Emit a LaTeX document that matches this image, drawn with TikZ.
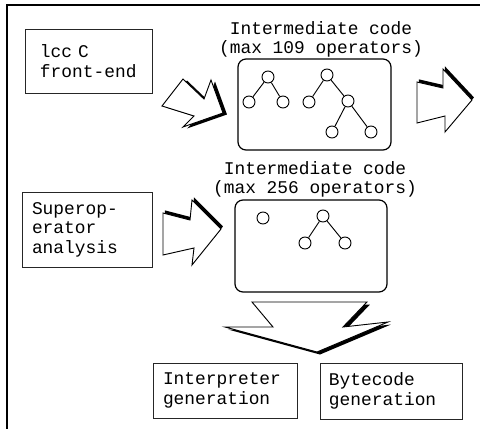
\documentclass[tikz,border=0pt]{standalone}
\usepackage{fontspec}
\setmonofont{Liberation Mono}
\usepackage{tikz}
\usetikzlibrary{positioning}

\begin{document}
\begin{tikzpicture}[
        x=0.75pt, y=-0.75pt,
        boite/.style={draw=black!85, line width=0.75pt, align=left, inner ysep=0pt,
            font=\ttfamily\fontsize{13.4}{14.6}\selectfont},
        titre/.style={anchor=base, inner sep=0pt, align=center,
            font=\ttfamily\fontsize{13.4}{13.6}\selectfont},
        code/.style={draw, rounded corners=6pt, line width=0.9pt},
        noeud/.style={circle, draw, minimum size=9pt, inner sep=0pt, line width=0.7pt},
        branche/.style={line width=0.7pt},
        fleche/.style={draw, fill=white, line width=0.7pt, line join=miter},
        ombre/.style={fill=black}
    ]
    \useasboundingbox (0,0) rectangle (480,429);

    % -- Cadre --
    \draw[line width=1.5pt] (480,5) -- (7,5) -- (7,429);

    % -- Boites de texte --
    \node[boite, minimum width=95.25pt, minimum height=48pt, text width=74.25pt, inner xsep=10.5pt]
        (lcc) at (89.5,61) {lcc C\\front-end};
    \node[boite, minimum width=97.5pt, minimum height=56.25pt, text width=84pt, inner xsep=6.75pt]
        (super) at (88,229.5) {Superop-\\erator\\analysis};
    \node[boite, minimum width=108pt, minimum height=41.25pt, text width=94.5pt, inner xsep=6.75pt]
        (interp) at (226,390.5) {Interpreter\\generation};
    \node[boite, minimum width=106.5pt, minimum height=42pt, text width=94.5pt, inner xsep=6pt]
        (bytecode) at (392,391) {Bytecode\\generation};

    % -- Code intermediaire --
    \node[code, minimum width=114.75pt, minimum height=68.25pt] (code1) at (314.5,104.5) {};
    \node[code, minimum width=114pt, minimum height=69pt] (code2) at (311,246) {};
    \node[titre] (titre1) at (321,53) {Intermediate code\\(max 109 operators)};
    \node[titre] (titre2) at (315,193) {Intermediate code\\(max 256 operators)};

    % -- Arbres (max 109) --
    \node[noeud] (a) at (268,77) {};
    \node[noeud] (b) at (249,102) {};
    \node[noeud] (c) at (283,102) {};
    \node[noeud] (d) at (327,75) {};
    \node[noeud] (e) at (309,102) {};
    \node[noeud] (f) at (348,101) {};
    \node[noeud] (g) at (332,132) {};
    \node[noeud] (h) at (371,132) {};
    \draw[branche] (a) -- (b);
    \draw[branche] (a) -- (c);
    \draw[branche] (d) -- (e);
    \draw[branche] (d) -- (f);
    \draw[branche] (f) -- (g);
    \draw[branche] (f) -- (h);

    % -- Arbres (max 256) --
    \node[noeud] (s) at (263,218) {};
    \node[noeud] (r) at (323,216) {};
    \node[noeud] (u) at (305,243) {};
    \node[noeud] (v) at (345,243) {};
    \draw[branche] (r) -- (u);
    \draw[branche] (r) -- (v);

    % -- Fleches (avec ombre) --
    % lcc -> code 1 :
    \fill[ombre, shift={(4,1.5)}] (162,106) -- (183,79) -- (204,99) -- (211,80)
        -- (223,113) -- (183,127) -- (194,116) -- cycle;
    \draw[fleche] (162,106) -- (183,79) -- (204,99) -- (211,80)
        -- (223,113) -- (183,127) -- (194,116) -- cycle;

    % super -> code 2 :
    \fill[ombre, shift={(2,-2.6)}] (163,213) -- (190,220) -- (192,200) -- (221,229)
        -- (192,265) -- (194,248) -- (163,255) -- cycle;
    \draw[fleche] (163,213) -- (190,220) -- (192,200) -- (221,229)
        -- (192,265) -- (194,248) -- (163,255) -- cycle;

    % code 1 -> sortie :
    \fill[ombre, shift={(2,-2.6)}] (417,82) -- (443,88) -- (443,69) -- (472,100)
        -- (445,132) -- (445,116) -- (417,123) -- cycle;
    \draw[fleche] (417,82) -- (443,88) -- (443,69) -- (472,100)
        -- (445,132) -- (445,116) -- (417,123) -- cycle;

    % code 2 -> generation :
    \fill[ombre, shift={(3,2.5)}] (252,302) -- (367,302) -- (343,327) -- (388,322)
        -- (317,352) -- (225,327) -- (273,327) -- cycle;
    \draw[fleche] (252,302) -- (367,302) -- (343,327) -- (388,322)
        -- (317,352) -- (225,327) -- (273,327) -- cycle;

\end{tikzpicture}
\end{document}
